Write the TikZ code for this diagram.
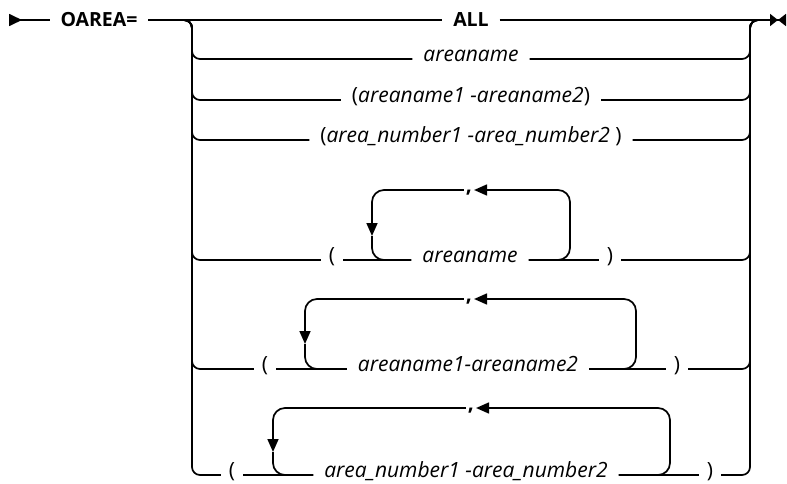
\documentclass[tikz,border=0pt]{standalone}
\usepackage{fontspec}
\setmainfont{Open Sans}
\usetikzlibrary{arrows.meta}
\begin{document}
\begin{tikzpicture}[x=1pt,y=-1pt,
  every node/.style={font=\fontsize{21}{24}\selectfont, inner ysep=0pt, outer sep=0pt},
  kwnode/.style={font=\fontsize{19.5}{24}\selectfont\bfseries, inner xsep=11pt},
  varnode/.style={font=\fontsize{21}{24}\selectfont\itshape, inner xsep=11pt, anchor=mid},
  parnode/.style={inner xsep=8pt, anchor=mid},
  commanode/.style={font=\fontsize{21}{24}\selectfont\bfseries, inner xsep=2pt, anchor=mid},
  lnstyle/.style={line width=1.7pt},
  railstyle/.style={line width=1.7pt, rounded corners=8pt},
  loopstyle/.style={line width=1.7pt, rounded corners=12pt},
  tritip/.style={-{Triangle[length=13pt,width=11pt]}}
]
\useasboundingbox (0,0) rectangle (787,484);
% rail reference points
\coordinate (s0) at (9,20);
\coordinate (e0) at (786,20);
\coordinate (lt) at (182,20);
\coordinate (lx) at (192,0);
\coordinate (rt) at (750,20);
\coordinate (rtE) at (760,20);

% row 1
\node[kwnode] (oarea) at (99,20) {OAREA=};
\node[kwnode] (all) at (471,20) {ALL};
\draw[lnstyle,{Triangle[reversed,length=13pt,width=12pt]}-] (s0) -- (oarea.west);
\draw[lnstyle] (oarea.east) -- (all.west);
\draw[lnstyle,-{Triangle[length=8pt,width=12pt]Triangle[reversed,length=8pt,width=12pt]}] (all.east) -- (e0);

% row 2
\node[varnode] (v2) at (471,59) {areaname};
\draw[railstyle] (lt) -| (lx |- v2.mid west) -- (v2.mid west);
\draw[railstyle] (v2.mid east) -| (rt) -- (rtE);

% row 3
\node[varnode,font=\fontsize{21}{24}\selectfont] (v3) at (471,100) {(\textit{areaname1 -areaname2})};
\draw[railstyle] (lt) -| (lx |- v3.mid west) -- (v3.mid west);
\draw[railstyle] (v3.mid east) -| (rt) -- (rtE);

% row 4
\node[varnode,font=\fontsize{21}{24}\selectfont] (v4) at (471,140) {(\textit{area\_number1 -area\_number2} )};
\draw[railstyle] (lt) -| (lx |- v4.mid west) -- (v4.mid west);
\draw[railstyle] (v4.mid east) -| (rt) -- (rtE);

% row 5
\node[parnode] (lp5) at (332,260) {(};
\node[varnode] (v5) at (470,260) {areaname};
\node[parnode] (rp5) at (610,260) {)};
\node[commanode] (c5) at (469,190) {,};
\coordinate (a5l) at (372,236);
\coordinate (a5r) at (570,0);
\draw[railstyle] (lt) -| (lx |- lp5.mid west) -- (lp5.mid west);
\draw[lnstyle] (lp5.mid east) -- (v5.mid west);
\draw[lnstyle] (v5.mid east) -- (rp5.mid west);
\draw[railstyle] (rp5.mid east) -| (rt) -- (rtE);
\draw[loopstyle,tritip] (v5.mid east) -| (a5r |- c5.mid east) -- (c5.mid east);
\draw[loopstyle,tritip] (c5.mid west) -| (a5l);
\draw[loopstyle] (a5l) |- (v5.mid west);

% row 6
\node[parnode] (lp6) at (265,369) {(};
\node[varnode] (v6) at (468,369) {areaname1-areaname2};
\node[parnode] (rp6) at (677,369) {)};
\node[commanode] (c6) at (469,299) {,};
\coordinate (a6l) at (305,344);
\coordinate (a6r) at (636,0);
\draw[railstyle] (lt) -| (lx |- lp6.mid west) -- (lp6.mid west);
\draw[lnstyle] (lp6.mid east) -- (v6.mid west);
\draw[lnstyle] (v6.mid east) -- (rp6.mid west);
\draw[railstyle] (rp6.mid east) -| (rt) -- (rtE);
\draw[loopstyle,tritip] (v6.mid east) -| (a6r |- c6.mid east) -- (c6.mid east);
\draw[loopstyle,tritip] (c6.mid west) -| (a6l);
\draw[loopstyle] (a6l) |- (v6.mid west);

% row 7
\node[parnode] (lp7) at (232,475) {(};
\node[varnode] (v7) at (466,475) {area\_number1 -area\_number2};
\node[parnode] (rp7) at (710,475) {)};
\node[commanode] (c7) at (471,408) {,};
\coordinate (a7l) at (273,452);
\coordinate (a7r) at (670,0);
\draw[railstyle] (lt) -| (lx |- lp7.mid west) -- (lp7.mid west);
\draw[lnstyle] (lp7.mid east) -- (v7.mid west);
\draw[lnstyle] (v7.mid east) -- (rp7.mid west);
\draw[railstyle] (rp7.mid east) -| (rt) -- (rtE);
\draw[loopstyle,tritip] (v7.mid east) -| (a7r |- c7.mid east) -- (c7.mid east);
\draw[loopstyle,tritip] (c7.mid west) -| (a7l);
\draw[loopstyle] (a7l) |- (v7.mid west);
\end{tikzpicture}
\end{document}
